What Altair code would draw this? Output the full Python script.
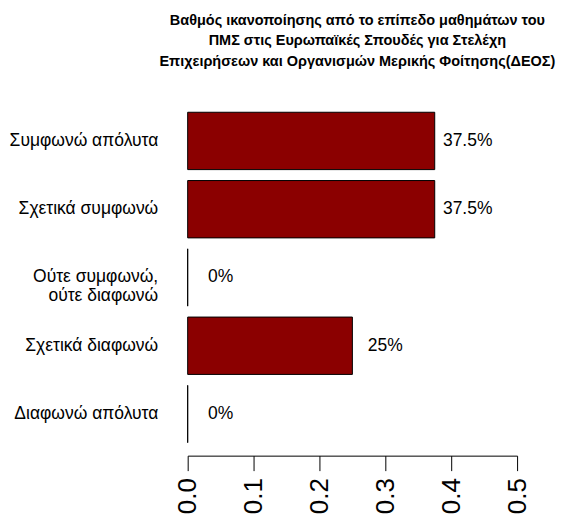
import altair as alt
import pandas as pd

categories = ["Συμφωνώ απόλυτα", "Σχετικά συμφωνώ", "Ούτε συμφωνώ, ούτε διαφωνώ",
              "Σχετικά διαφωνώ", "Διαφωνώ απόλυτα"]
values = [0.375, 0.375, 0.0, 0.25, 0.0]
x_ticks = [0.0, 0.1, 0.2, 0.3, 0.4, 0.5]
title_lines = ["Βαθμός ικανοποίησης από το επίπεδο μαθημάτων του",
               "ΠΜΣ στις Ευρωπαϊκές Σπουδές για Στελέχη",
               "Επιχειρήσεων και Οργανισμών Μερικής Φοίτησης(ΔΕΟΣ)"]

df = pd.DataFrame({"category": categories, "value": values})

FONT = "Liberation Sans"

label_expr = ("datum.value == 'Ούτε συμφωνώ, ούτε διαφωνώ' ? "
              "['Ούτε συμφωνώ,', 'ούτε διαφωνώ'] : datum.label")

y_enc = alt.Y("category:N", sort=categories,
              scale=alt.Scale(paddingInner=0.16, paddingOuter=0.19),
              axis=alt.Axis(title=None, domain=False, ticks=False, labelPadding=30,
                            labelFont=FONT, labelFontSize=17.5, labelColor="black",
                            labelExpr=label_expr, labelLineHeight=19, labelLimit=300))

bars = alt.Chart(df).mark_bar(color="#8B0000", stroke="black", strokeWidth=1).encode(
    x=alt.X("value:Q", scale=alt.Scale(domain=[0, 0.5], nice=False, zero=True),
            axis=alt.Axis(title=None, values=x_ticks, format=".1f", grid=False,
                          domainColor="black", tickColor="black", tickSize=15,
                          labelAngle=270, labelAlign="right", labelBaseline="middle",
                          labelPadding=7, labelFont=FONT, labelFontSize=26,
                          labelColor="black", domainWidth=1, tickWidth=1)),
    y=y_enc,
)

texts = alt.Chart(df).transform_calculate(
    pos="datum.value + 0.05",
    lbl="datum.value * 100 + '%'",
).mark_text(font=FONT, fontSize=17.5, color="black", align="center", baseline="middle").encode(
    x=alt.X("pos:Q"),
    y=alt.Y("category:N", sort=categories),
    text="lbl:N",
)

chart = alt.layer(bars, texts).properties(
    width=330,
    height=357,
    padding={"left": 0, "top": 4, "right": 5, "bottom": 0},
    title=alt.TitleParams(text=title_lines, font=FONT, fontSize=14.5, fontWeight="bold",
                          color="black", lineHeight=20.5, anchor="middle", frame="group",
                          offset=30, dx=5),
).configure_view(stroke=None)

chart.save("out.html", embed_options={"renderer": "svg", "actions": False})
